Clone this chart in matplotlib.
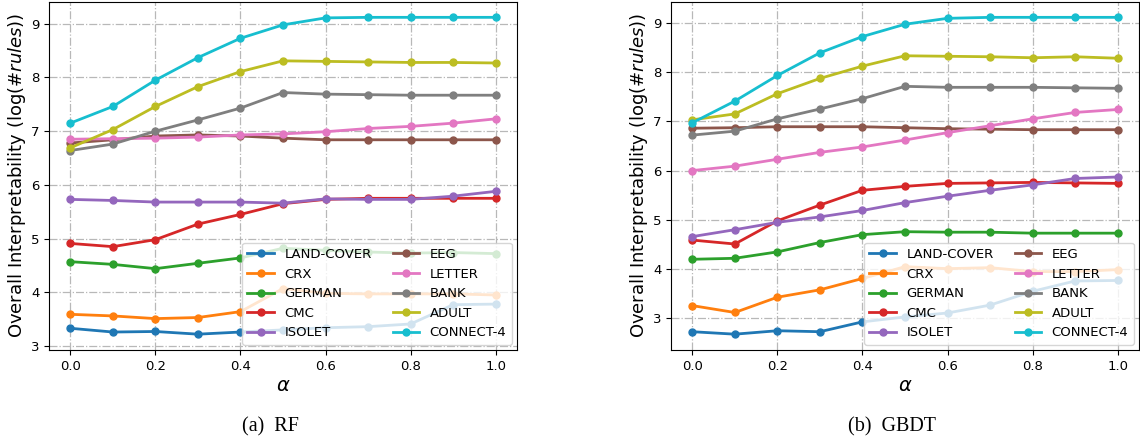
import numpy as np
import matplotlib
matplotlib.use('Agg')
import matplotlib.pyplot as plt


alphas = [0.0, 0.1, 0.2, 0.3, 0.4, 0.5, 0.6, 0.7, 0.8, 0.9, 1.0]
datasets = ['LAND-COVER', 'CRX', 'GERMAN', 'CMC', 'ISOLET',
            'EEG', 'LETTER', 'BANK', 'ADULT', 'CONNECT-4']

# RF
rf_land_cover = [3.33, 3.26, 3.27, 3.22, 3.26, 3.30, 3.34, 3.36, 3.41, 3.77, 3.78]
rf_crx = [3.59, 3.56, 3.51, 3.53, 3.64, 4.07, 3.98, 3.97, 3.97, 3.97, 3.95]
rf_german = [4.57, 4.52, 4.44, 4.54, 4.64, 4.82, 4.78, 4.75, 4.73, 4.74, 4.72]
rf_cmc = [4.91, 4.85, 4.98, 5.27, 5.45, 5.65, 5.73, 5.75, 5.75, 5.75, 5.75]
rf_isolet = [5.73, 5.71, 5.68, 5.68, 5.68, 5.66, 5.74, 5.73, 5.73, 5.79, 5.88]
rf_eeg = [6.78, 6.84, 6.91, 6.93, 6.91, 6.87, 6.84, 6.84, 6.84, 6.84, 6.84]
rf_letter = [6.85, 6.86, 6.87, 6.89, 6.93, 6.95, 6.99, 7.05, 7.09, 7.15, 7.23]
rf_bank = [6.64, 6.76, 7.00, 7.21, 7.43, 7.72, 7.69, 7.68, 7.67, 7.67, 7.67]
rf_adult = [6.69, 7.03, 7.46, 7.83, 8.11, 8.31, 8.30, 8.29, 8.28, 8.28, 8.27]
rf_connect4 = [7.15, 7.46, 7.95, 8.37, 8.73, 8.98, 9.11, 9.12, 9.12, 9.12, 9.12]

# GBDT
gb_land_cover = [2.73, 2.68, 2.75, 2.73, 2.93, 3.03, 3.11, 3.27, 3.55, 3.76, 3.77]
gb_crx = [3.26, 3.12, 3.43, 3.58, 3.81, 4.05, 4.01, 4.03, 3.95, 3.95, 3.99]
gb_german = [4.20, 4.22, 4.35, 4.54, 4.70, 4.76, 4.75, 4.75, 4.73, 4.73, 4.73]
gb_cmc = [4.59, 4.51, 4.98, 5.30, 5.60, 5.68, 5.74, 5.75, 5.76, 5.75, 5.74]
gb_isolet = [4.66, 4.80, 4.95, 5.06, 5.19, 5.35, 5.48, 5.60, 5.71, 5.84, 5.87]
gb_eeg = [6.86, 6.87, 6.89, 6.89, 6.89, 6.87, 6.85, 6.84, 6.83, 6.83, 6.83]
gb_letter = [6.00, 6.09, 6.23, 6.37, 6.48, 6.62, 6.77, 6.91, 7.05, 7.18, 7.24]
gb_bank = [6.72, 6.80, 7.05, 7.25, 7.46, 7.71, 7.69, 7.69, 7.69, 7.68, 7.67]
gb_adult = [7.03, 7.15, 7.56, 7.87, 8.12, 8.33, 8.32, 8.31, 8.29, 8.31, 8.28]
gb_connect4 = [6.97, 7.41, 7.93, 8.39, 8.72, 8.97, 9.09, 9.11, 9.11, 9.11, 9.11]

rf_series = [rf_land_cover, rf_crx, rf_german, rf_cmc, rf_isolet,
             rf_eeg, rf_letter, rf_bank, rf_adult, rf_connect4]
gb_series = [gb_land_cover, gb_crx, gb_german, gb_cmc, gb_isolet,
             gb_eeg, gb_letter, gb_bank, gb_adult, gb_connect4]
captions = ['(a)  RF', '(b)  GBDT']


def plot_panel(ax, series):
    colors = plt.get_cmap('tab10').colors
    for i, (name, values) in enumerate(zip(datasets, series)):
        ax.plot(alphas, values, marker='o', markersize=5, linewidth=2,
                color=colors[i], label=name)

    ax.grid(True, linestyle='-.', color='#b8b8b8', linewidth=0.9)
    ax.set_axisbelow(True)
    ax.set_xticks([0.0, 0.2, 0.4, 0.6, 0.8, 1.0])
    ax.tick_params(axis='both', which='major', labelsize=9.5)
    ax.set_xlabel(r'$\alpha$', fontsize=14, labelpad=2)
    ax.set_ylabel('Overall Interpretability (log(#$rules$))', fontsize=13,
                  labelpad=2)
    ax.legend(loc='lower right', ncol=2, fontsize=9.5, framealpha=0.8,
              borderaxespad=0.4, columnspacing=1.6)


fig = plt.figure(figsize=(11.4, 4.42), dpi=100)
ax1 = fig.add_axes([0.043, 0.2081, 0.4105, 0.7885])
ax2 = fig.add_axes([0.5886, 0.2081, 0.4105, 0.7885])

plot_panel(ax1, rf_series)
plot_panel(ax2, gb_series)

fig.text(270.5 / 1140, 1 - 427 / 442, captions[0], ha='center', va='center',
         fontsize=14.5, family='Liberation Serif')
fig.text(892 / 1140, 1 - 427 / 442, captions[1], ha='center', va='center',
         fontsize=14.5, family='Liberation Serif')

plt.savefig('out.png', dpi=100)
plt.close('all')
